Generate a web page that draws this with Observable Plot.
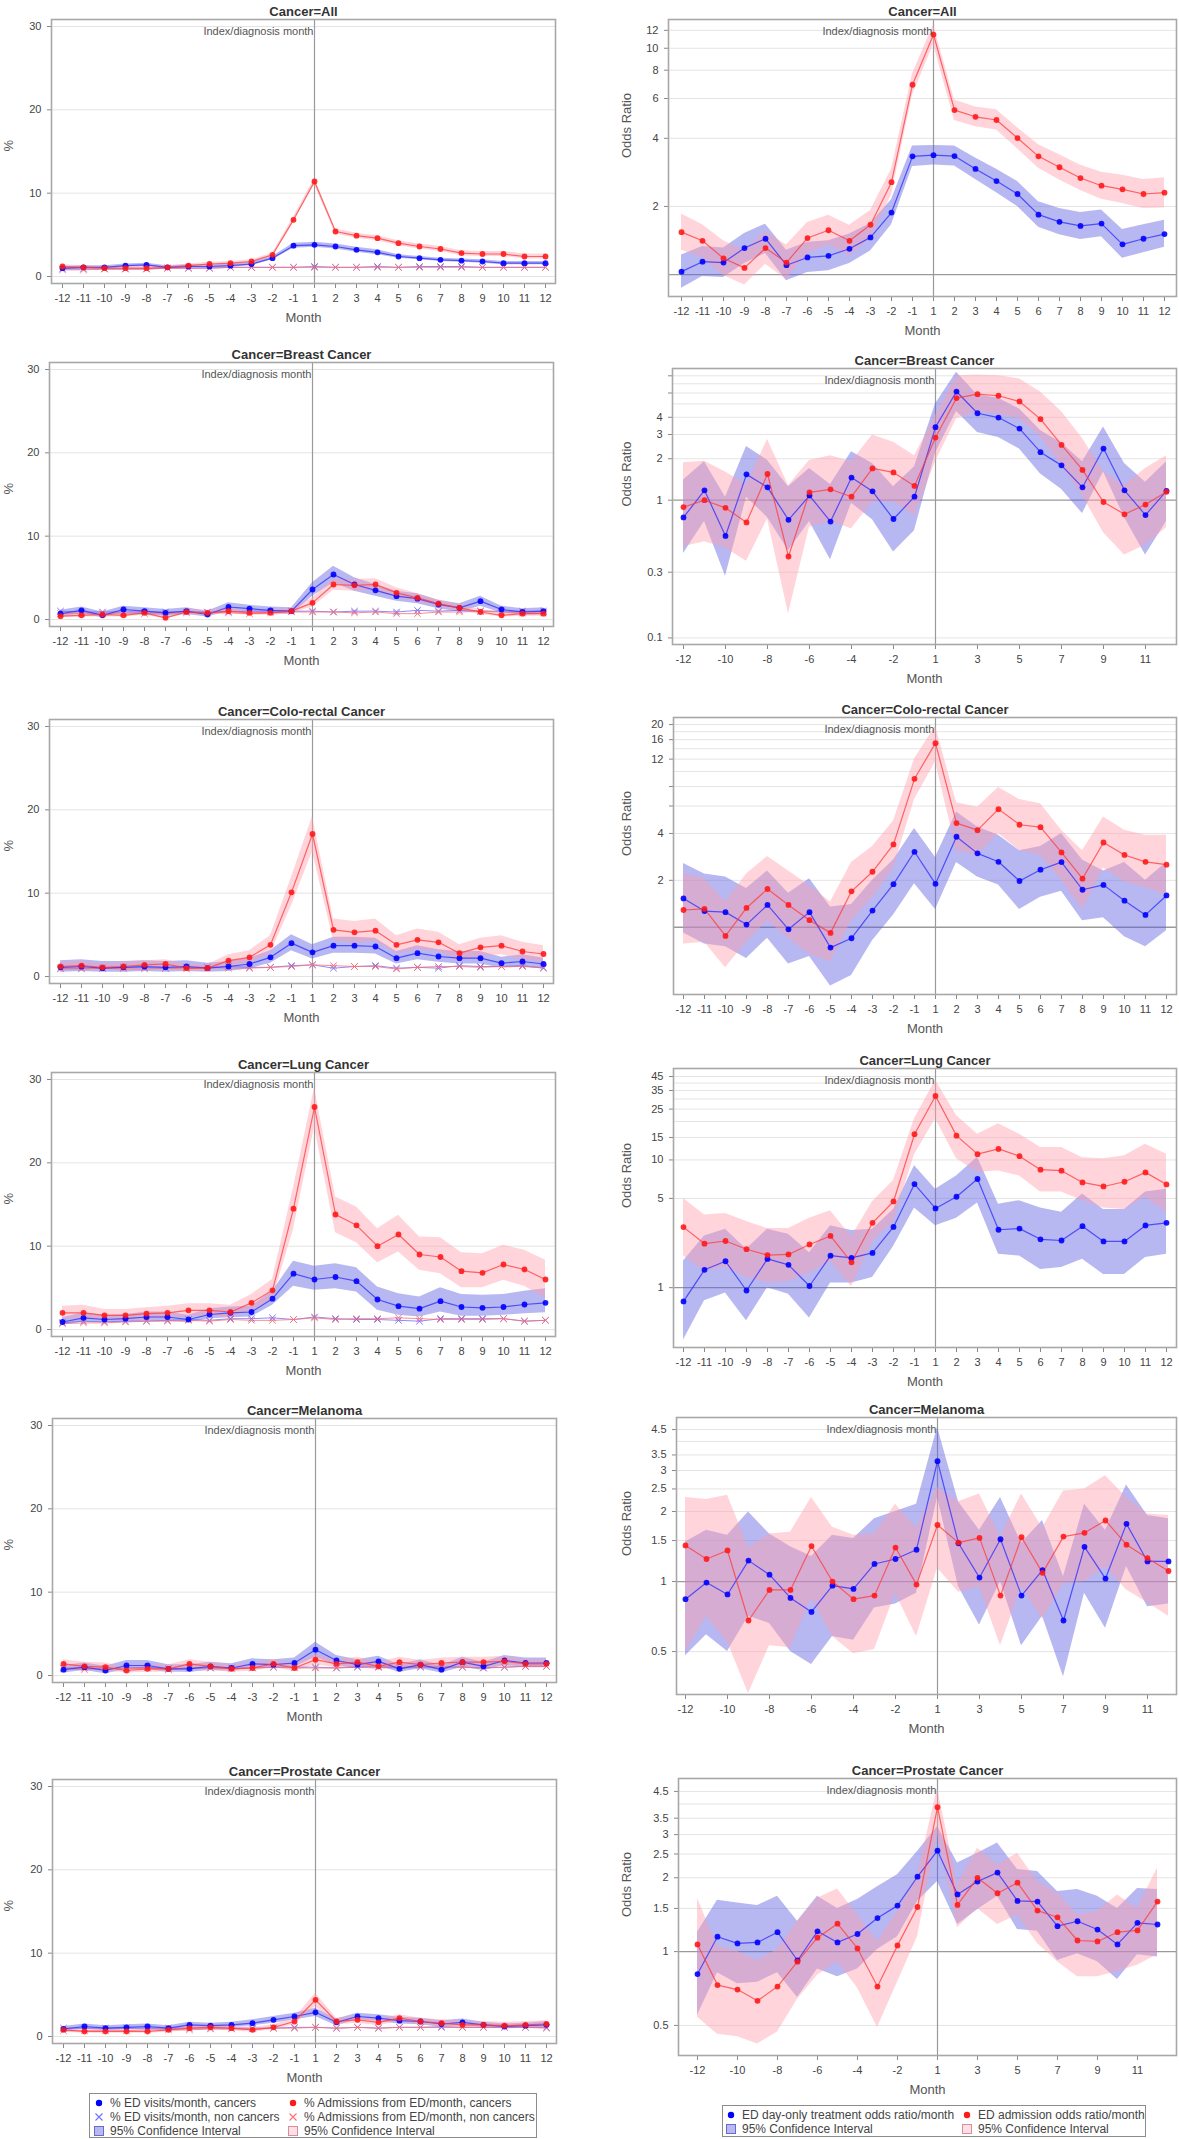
<!DOCTYPE html>
<html><head><meta charset="utf-8">
<script src="https://cdn.jsdelivr.net/npm/d3@7"></script>
<script src="https://cdn.jsdelivr.net/npm/@observablehq/plot@0.6"></script>
<style>
body{margin:0;background:#fff;font-family:"Liberation Sans",Arial,sans-serif;}
#page{position:relative;width:1179px;height:2139px;overflow:hidden;background:#fff;}
.legend{position:absolute;border:1px solid #8c8c8c;box-sizing:border-box;background:#fff;}
</style></head><body><div id="page"></div>
<script>
const months = ["-12","-11","-10","-9","-8","-7","-6","-5","-4","-3","-2","-1","1","2","3","4","5","6","7","8","9","10","11","12"];
const oddTicks = ["-12","-10","-8","-6","-4","-2","1","3","5","7","9","11"];
const pctTicks = [0, 10, 20, 30];

// ---------- Cancer=All ----------
const allEd     = [1.0,1.1,1.1,1.3,1.4,1.1,1.2,1.2,1.3,1.5,2.2,3.7,3.8,3.6,3.2,2.9,2.4,2.2,2.0,1.9,1.8,1.6,1.6,1.6];
const allEdLo   = [0.8,0.9,0.9,1.1,1.2,0.9,1.0,1.0,1.1,1.3,2.0,3.4,3.5,3.3,2.9,2.6,2.2,2.0,1.8,1.7,1.6,1.4,1.4,1.4];
const allEdHi   = [1.2,1.3,1.3,1.5,1.6,1.3,1.4,1.4,1.5,1.7,2.4,4.0,4.1,3.9,3.5,3.2,2.6,2.4,2.2,2.1,2.0,1.8,1.8,1.8];
const allAdm    = [1.2,1.1,1.0,1.0,1.0,1.1,1.3,1.5,1.6,1.8,2.6,6.8,11.4,5.4,4.9,4.6,4.0,3.6,3.3,2.8,2.7,2.7,2.4,2.4];
const allAdmLo  = [1.0,0.9,0.8,0.8,0.8,0.9,1.1,1.3,1.4,1.6,2.4,6.5,11.0,5.1,4.6,4.3,3.7,3.3,3.0,2.5,2.4,2.4,2.1,2.1];
const allAdmHi  = [1.4,1.3,1.2,1.2,1.2,1.3,1.5,1.7,1.8,2.0,2.8,7.1,11.8,5.7,5.2,4.9,4.3,3.9,3.6,3.1,3.0,3.0,2.7,2.7];
const allEdNon  = [0.9,0.9,0.9,0.9,0.9,1.0,1.0,1.0,1.1,1.1,1.1,1.1,1.2,1.1,1.1,1.2,1.1,1.2,1.2,1.2,1.1,1.1,1.1,1.1];
const allAdmNon = [0.8,0.8,0.9,0.9,0.9,1.0,1.0,1.0,1.1,1.1,1.1,1.1,1.1,1.1,1.1,1.1,1.1,1.1,1.1,1.1,1.1,1.1,1.1,1.1];
const allEdOR     = [1.03,1.14,1.13,1.31,1.44,1.10,1.19,1.21,1.30,1.46,1.88,3.33,3.37,3.34,2.93,2.59,2.27,1.84,1.71,1.64,1.68,1.36,1.44,1.51];
const allEdORLo   = [0.87,0.98,0.97,1.12,1.24,0.94,1.02,1.04,1.12,1.27,1.66,3.0,3.05,3.02,2.63,2.3,2.0,1.62,1.5,1.43,1.47,1.18,1.25,1.32];
const allEdORHi   = [1.22,1.33,1.31,1.52,1.67,1.28,1.39,1.41,1.51,1.68,2.14,3.7,3.72,3.7,3.27,2.92,2.58,2.1,1.96,1.88,1.93,1.58,1.66,1.74];
const allAdmOR    = [1.54,1.41,1.18,1.07,1.31,1.13,1.45,1.57,1.41,1.66,2.56,6.9,11.5,5.33,4.98,4.82,4.01,3.33,2.98,2.67,2.47,2.38,2.27,2.30];
const allAdmORLo  = [1.28,1.19,0.99,0.90,1.11,0.95,1.24,1.35,1.21,1.44,2.25,6.2,10.4,4.8,4.5,4.35,3.6,2.95,2.62,2.35,2.15,2.06,1.96,1.97];
const allAdmORHi  = [1.85,1.66,1.41,1.27,1.55,1.35,1.70,1.83,1.65,1.92,2.92,7.7,12.7,5.9,5.5,5.35,4.45,3.75,3.38,3.04,2.83,2.75,2.63,2.68];

// ---------- Cancer=Breast Cancer ----------
const brEd     = [0.7,1.1,0.5,1.2,1.0,0.8,1.0,0.6,1.5,1.3,1.1,1.0,3.6,5.4,4.2,3.5,2.8,2.5,1.8,1.4,2.2,1.2,0.9,1.0];
const brEdLo   = [0.3,0.7,0.2,0.8,0.6,0.4,0.6,0.3,1.0,0.9,0.7,0.6,2.8,4.4,3.4,2.8,2.2,1.9,1.3,0.9,1.6,0.8,0.5,0.6];
const brEdHi   = [1.1,1.5,0.9,1.6,1.4,1.2,1.4,1.0,2.0,1.7,1.5,1.4,4.4,6.4,5.0,4.2,3.4,3.1,2.3,1.9,2.8,1.6,1.3,1.4];
const brAdm    = [0.4,0.5,0.6,0.5,0.8,0.2,0.9,0.8,1.0,0.8,0.8,1.0,2.0,4.2,4.1,4.2,3.2,2.6,1.9,1.4,0.9,0.5,0.7,0.7];
const brAdmLo  = [0.2,0.3,0.3,0.3,0.5,0.1,0.6,0.5,0.7,0.5,0.5,0.7,1.5,3.5,3.4,3.5,2.6,2.1,1.5,1.0,0.6,0.3,0.4,0.4];
const brAdmHi  = [0.7,0.8,0.9,0.8,1.1,0.4,1.2,1.1,1.3,1.1,1.1,1.3,2.6,4.9,4.8,4.9,3.8,3.1,2.3,1.8,1.2,0.8,1.0,1.0];
const brEdNon  = [1.0,0.9,0.9,0.9,0.9,0.9,0.9,0.9,0.9,1.0,1.0,1.0,1.0,0.9,1.0,1.0,0.9,1.1,1.0,1.1,1.0,1.0,1.0,1.0];
const brAdmNon = [0.7,0.7,0.7,0.7,0.7,0.7,0.8,0.8,0.8,0.7,0.8,0.9,0.9,0.9,0.8,0.9,0.7,0.7,0.9,0.9,1.0,0.9,0.8,0.8];
const brEdOR     = [0.75,1.18,0.55,1.54,1.24,0.72,1.08,0.70,1.46,1.16,0.73,1.06,3.39,6.15,4.28,3.98,3.31,2.23,1.79,1.24,2.37,1.18,0.78,1.17];
const brEdORLo   = [0.41,0.7,0.28,1.05,0.75,0.43,0.7,0.37,0.95,0.72,0.42,0.6,2.2,4.4,3.1,2.85,2.35,1.55,1.2,0.8,1.6,0.75,0.4,0.7];
const brEdORHi   = [1.4,1.9,1.05,2.45,1.95,1.25,1.7,1.3,2.25,1.85,1.25,1.75,5.0,8.5,5.8,5.5,4.6,3.2,2.6,1.9,3.4,1.85,1.35,1.9];
const brAdmOR    = [0.89,1.0,0.88,0.69,1.55,0.39,1.14,1.20,1.06,1.70,1.59,1.27,2.85,5.51,5.89,5.73,5.21,3.88,2.52,1.66,0.97,0.79,0.93,1.15];
const brAdmORLo  = [0.46,0.5,0.45,0.36,0.73,0.15,0.64,0.7,0.62,0.97,0.97,0.77,1.9,3.9,4.4,4.2,3.9,2.9,1.8,1.08,0.58,0.4,0.47,0.63];
const brAdmORHi  = [1.87,1.92,1.6,1.3,2.76,1.28,1.94,2.1,1.9,2.98,2.64,2.1,4.1,8.0,8.1,8.0,7.6,6.1,4.4,2.8,1.6,1.28,1.7,2.1];

// ---------- Cancer=Colo-rectal Cancer ----------
const crEd     = [1.1,1.2,1.0,1.1,1.2,1.1,1.2,1.0,1.2,1.5,2.3,4.0,2.9,3.7,3.7,3.6,2.2,2.8,2.4,2.2,2.2,1.6,1.8,1.5];
const crEdLo   = [0.5,0.6,0.5,0.5,0.6,0.5,0.6,0.5,0.6,0.9,1.6,3.1,2.1,2.8,2.8,2.7,1.5,2.0,1.7,1.5,1.5,1.0,1.1,0.9];
const crEdHi   = [1.9,2.0,1.8,1.8,1.9,1.8,1.9,1.6,1.8,2.2,3.1,5.0,3.8,4.7,4.7,4.6,3.0,3.7,3.2,3.0,3.0,2.3,2.6,2.2];
const crAdm    = [1.2,1.3,1.1,1.2,1.4,1.5,1.0,1.0,1.9,2.3,3.8,10.1,17.1,5.6,5.3,5.5,3.8,4.4,4.1,2.8,3.5,3.7,3.0,2.7];
const crAdmLo  = [0.8,0.9,0.7,0.8,0.9,1.0,0.6,0.6,1.2,1.6,2.8,8.5,15.0,4.3,4.0,4.2,2.7,3.2,3.0,1.9,2.4,2.6,2.0,1.7];
const crAdmHi  = [1.7,1.8,1.5,1.7,1.9,2.0,1.4,1.4,2.6,3.1,4.9,11.9,19.2,6.9,6.6,6.9,4.9,5.7,5.3,3.8,4.6,4.9,4.1,3.7];
const crEdNon  = [1.0,1.0,1.0,1.1,1.1,1.0,1.1,1.1,1.2,1.1,1.1,1.3,1.4,1.0,1.2,1.3,1.0,1.1,1.0,1.3,1.2,1.2,1.3,1.0];
const crAdmNon = [0.9,0.9,1.0,0.9,0.9,1.0,0.9,1.1,1.0,1.0,1.1,1.2,1.4,1.3,1.2,1.2,0.9,1.1,1.2,1.2,1.1,1.2,1.2,1.1];
const crEdOR     = [1.53,1.27,1.25,1.04,1.39,0.97,1.25,0.74,0.85,1.28,1.89,3.05,1.90,3.81,2.98,2.63,1.98,2.34,2.62,1.74,1.87,1.48,1.20,1.60];
const crEdORLo   = [0.92,0.78,0.75,0.63,0.85,0.58,0.65,0.42,0.49,0.82,1.2,1.9,1.3,2.6,2.1,1.87,1.3,1.56,1.7,1.1,1.15,0.87,0.75,0.95];
const crEdORHi   = [2.57,2.2,2.1,1.77,2.3,1.65,2.05,1.35,1.4,2.0,2.7,4.3,2.8,5.5,4.4,3.9,3.1,3.3,4.0,2.7,2.3,2.6,2.0,2.6];
const crAdmOR    = [1.29,1.31,0.88,1.33,1.76,1.39,1.11,0.92,1.70,2.27,3.40,8.97,15.2,4.66,4.20,5.73,4.55,4.39,3.02,2.05,3.50,2.91,2.63,2.52];
const crAdmORLo  = [0.78,0.8,0.55,0.8,1.1,0.85,0.67,0.6,1.1,1.55,2.4,6.6,11.5,3.1,2.9,4.0,3.1,2.9,2.0,1.3,2.4,1.95,1.8,1.6];
const crAdmORHi  = [2.2,2.05,1.45,2.2,2.85,2.3,1.85,1.45,2.6,3.3,4.8,12.0,19.5,6.3,5.9,7.9,6.6,6.2,4.2,3.1,5.1,4.2,3.9,3.9];

// ---------- Cancer=Lung Cancer ----------
const luEd     = [0.9,1.4,1.2,1.3,1.5,1.5,1.2,1.8,2.0,2.1,3.7,6.7,6.0,6.3,5.8,3.6,2.8,2.5,3.4,2.7,2.6,2.7,3.0,3.2];
const luEdLo   = [0.5,0.9,0.8,0.9,1.0,1.0,0.8,1.3,1.4,1.5,2.9,5.2,4.7,4.9,4.5,2.3,1.7,1.5,2.1,1.6,1.6,1.7,1.9,2.0];
const luEdHi   = [1.4,2.0,1.7,1.8,2.1,2.1,1.7,2.5,2.7,2.8,4.6,8.2,7.6,7.9,7.4,5.1,4.3,3.9,5.0,4.2,4.1,4.2,4.6,4.9];
const luAdm    = [2.0,2.0,1.7,1.7,1.9,2.0,2.3,2.3,2.1,3.2,4.7,14.5,26.7,13.8,12.5,10.0,11.4,9.0,8.7,7.0,6.8,7.8,7.2,6.0];
const luAdmLo  = [1.3,1.3,1.1,1.1,1.3,1.3,1.6,1.6,1.4,2.3,3.6,12.0,24.3,11.6,10.4,8.0,9.3,7.1,6.7,5.0,5.0,5.9,5.2,3.7];
const luAdmHi  = [2.8,2.9,2.4,2.4,2.6,2.8,3.1,3.1,2.9,4.2,6.0,17.0,29.0,15.9,14.7,12.1,13.7,11.1,11.0,9.2,9.1,10.1,9.5,8.3];
const luEdNon  = [0.8,1.0,0.9,1.0,1.0,1.1,1.2,1.1,1.3,1.3,1.4,1.2,1.5,1.3,1.2,1.2,1.1,1.0,1.3,1.3,1.3,1.3,1.0,1.1];
const luAdmNon = [0.7,0.8,0.8,0.9,1.0,1.0,1.1,1.0,1.2,1.1,1.1,1.2,1.4,1.2,1.3,1.3,1.4,1.3,1.2,1.2,1.2,1.3,1.0,1.1];
const luEdOR     = [0.78,1.38,1.61,0.95,1.68,1.51,1.03,1.78,1.71,1.87,2.99,6.47,4.17,5.15,7.09,2.84,2.90,2.39,2.34,3.03,2.30,2.30,3.07,3.22];
const luEdORLo   = [0.39,0.79,0.91,0.55,1.0,0.89,0.58,1.09,1.09,1.2,2.1,4.2,3.05,3.5,4.6,1.83,1.77,1.39,1.44,1.67,1.27,1.27,1.72,1.83];
const luEdORHi   = [1.62,2.54,2.87,2.0,2.87,2.62,1.88,3.05,2.8,2.87,4.1,9.0,5.9,7.5,10.5,4.5,4.8,4.2,3.9,5.4,4.1,4.1,5.6,5.9];
const luAdmOR    = [2.98,2.21,2.32,2.0,1.80,1.82,2.18,2.54,1.58,3.22,4.73,15.9,31.7,15.5,11.1,12.2,10.7,8.39,8.24,6.67,6.2,6.75,7.99,6.43];
const luAdmORLo  = [1.77,1.35,1.45,1.2,1.1,1.12,1.3,1.6,1.02,2.3,3.3,11.0,21,10.2,8.0,8.2,7.5,5.6,5.6,4.8,4.2,4.1,5.1,3.9];
const luAdmORHi  = [5.0,3.7,3.8,3.3,2.9,2.9,3.5,4.0,2.5,4.7,6.9,21,42,22.3,15.9,19.2,15.9,12.5,12.5,10.4,10.2,10.8,13.3,11.1];

// ---------- Cancer=Melanoma ----------
const meEd     = [0.7,1.0,0.6,1.2,1.2,0.8,0.8,1.1,0.9,1.4,1.3,1.5,3.1,1.8,1.3,1.7,0.8,1.3,0.7,1.6,1.1,1.8,1.5,1.5];
const meEdLo   = [0.3,0.6,0.2,0.7,0.7,0.4,0.4,0.6,0.5,0.9,0.8,1.0,2.2,1.2,0.8,1.1,0.4,0.8,0.3,1.0,0.6,1.2,1.0,1.0];
const meEdHi   = [1.2,1.5,1.1,1.8,1.8,1.3,1.3,1.6,1.4,2.0,1.9,2.1,4.0,2.4,1.9,2.3,1.3,1.9,1.2,2.2,1.6,2.4,2.1,2.1];
const meAdm    = [1.4,1.1,1.0,0.6,0.8,0.8,1.4,1.1,0.8,0.9,1.4,0.9,1.9,1.4,1.6,1.1,1.6,1.3,1.5,1.6,1.6,1.7,1.4,1.4];
const meAdmLo  = [0.9,0.6,0.6,0.3,0.4,0.4,0.9,0.6,0.4,0.5,0.9,0.5,1.3,0.9,1.0,0.6,1.0,0.8,0.9,1.0,1.0,1.1,0.9,0.9];
const meAdmHi  = [1.9,1.6,1.5,1.0,1.3,1.3,1.9,1.6,1.3,1.4,1.9,1.4,2.5,1.9,2.2,1.6,2.2,1.8,2.1,2.2,2.2,2.3,1.9,1.9];
const meEdNon  = [0.9,0.9,0.8,0.9,1.0,0.8,0.9,0.9,0.9,0.9,1.0,1.0,1.0,0.9,1.0,1.0,0.9,1.0,1.0,1.0,0.9,1.0,1.1,1.1];
const meAdmNon = [0.8,0.7,0.8,0.8,0.9,0.7,0.9,0.9,0.8,0.9,1.0,0.9,0.9,0.9,1.1,1.1,1.0,1.1,1.1,1.0,0.9,1.0,1.1,1.1];
const meEdOR     = [0.84,0.99,0.88,1.23,1.07,0.85,0.74,0.96,0.93,1.19,1.25,1.37,3.29,1.46,1.04,1.52,0.87,1.12,0.68,1.41,1.03,1.77,1.22,1.22];
const meEdORLo   = [0.48,0.59,0.5,0.71,0.66,0.5,0.44,0.58,0.56,0.77,0.8,0.89,2.3,0.95,0.65,1.0,0.53,0.71,0.39,0.89,0.63,1.16,0.78,0.8];
const meEdORHi   = [1.48,1.66,1.58,1.99,1.6,1.41,1.28,1.58,1.53,1.86,2.0,2.15,4.6,2.2,1.66,2.3,1.46,1.83,1.05,2.15,1.66,2.6,1.92,1.86];
const meAdmOR    = [1.43,1.25,1.36,0.68,0.92,0.92,1.42,1.0,0.84,0.87,1.40,0.97,1.75,1.47,1.54,0.87,1.55,1.09,1.56,1.62,1.83,1.44,1.26,1.11];
const meAdmORLo  = [0.5,0.71,0.55,0.33,0.53,0.52,0.85,0.58,0.49,0.51,0.89,0.58,1.14,0.9,0.95,0.53,0.95,0.69,0.98,1.0,1.16,0.92,0.81,0.71];
const meAdmORHi  = [2.3,2.25,2.35,1.4,1.6,1.63,2.3,1.71,1.58,1.6,2.15,1.7,2.54,2.2,2.38,1.55,2.38,1.7,2.45,2.5,2.85,2.3,1.95,1.92];

// ---------- Cancer=Prostate Cancer ----------
const prEd     = [0.9,1.2,1.0,1.1,1.2,1.0,1.4,1.3,1.4,1.6,2.0,2.4,2.9,1.7,2.4,2.2,1.9,1.8,1.5,1.7,1.4,1.2,1.3,1.4];
const prEdLo   = [0.6,0.9,0.7,0.8,0.9,0.7,1.1,1.0,1.1,1.3,1.6,2.0,2.4,1.3,2.0,1.8,1.5,1.4,1.1,1.3,1.1,0.9,1.0,1.0];
const prEdHi   = [1.2,1.5,1.3,1.4,1.5,1.3,1.7,1.6,1.7,2.0,2.4,2.8,3.4,2.1,2.8,2.6,2.3,2.2,1.9,2.1,1.7,1.5,1.6,1.8];
const prAdm    = [0.8,0.6,0.6,0.6,0.6,0.8,1.0,1.1,1.0,0.8,1.1,1.8,4.4,1.8,2.0,1.7,2.2,1.8,1.6,1.4,1.4,1.3,1.4,1.5];
const prAdmLo  = [0.5,0.4,0.4,0.4,0.4,0.5,0.7,0.8,0.7,0.5,0.8,1.4,3.6,1.4,1.6,1.3,1.8,1.4,1.2,1.0,1.0,1.0,1.0,1.1];
const prAdmHi  = [1.1,0.9,0.9,0.9,0.9,1.1,1.3,1.4,1.3,1.1,1.4,2.2,5.2,2.2,2.4,2.1,2.6,2.2,2.0,1.8,1.8,1.7,1.8,1.9];
const prEdNon  = [1.0,1.0,1.0,1.0,1.0,1.0,1.0,1.0,1.0,1.0,1.0,1.1,1.1,1.0,1.1,1.0,1.1,1.1,1.1,1.1,1.1,1.1,1.1,1.1];
const prAdmNon = [0.7,0.7,0.7,0.7,0.8,0.8,0.8,0.9,0.9,0.9,1.0,1.0,1.1,1.0,1.1,1.0,1.1,1.1,1.2,1.1,1.1,1.1,1.1,1.0];
const prEdOR     = [0.81,1.15,1.08,1.09,1.2,0.92,1.21,1.09,1.18,1.37,1.54,2.02,2.58,1.71,1.93,2.10,1.61,1.60,1.27,1.33,1.23,1.07,1.31,1.29];
const prEdORLo   = [0.55,0.82,0.74,0.75,0.82,0.65,0.85,0.79,0.85,1.02,1.15,1.6,1.93,1.29,1.48,1.68,1.23,1.21,0.92,0.98,0.91,0.77,0.97,0.95];
const prEdORHi   = [1.2,1.62,1.58,1.54,1.68,1.33,1.68,1.5,1.63,1.84,2.06,2.56,3.24,2.3,2.52,2.77,2.16,2.12,1.76,1.79,1.68,1.5,1.81,1.79];
const prAdmOR    = [1.07,0.73,0.70,0.63,0.72,0.91,1.14,1.30,1.03,0.72,1.06,1.52,3.88,1.55,2.0,1.73,1.91,1.47,1.38,1.11,1.10,1.20,1.22,1.60];
const prAdmORLo  = [0.54,0.46,0.45,0.42,0.47,0.64,0.8,0.91,0.71,0.49,0.75,1.15,3.0,1.25,1.5,1.29,1.41,1.08,0.91,0.79,0.79,0.83,0.88,0.97];
const prAdmORHi  = [1.65,1.05,1.0,0.92,1.02,1.33,1.65,1.8,1.41,1.1,1.46,2.06,4.65,1.87,2.64,2.26,2.52,1.93,1.73,1.41,1.46,1.7,1.5,2.19];

// ---------- odds-ratio axis ticks ----------
const orLabelsAll = [2,4,6,8,10,12];
const orGridAll   = [2,4,6,8,10,12];
const orLabelsBr  = [0.1,0.3,1,2,3,4,6,8];
const orGridBr    = [0.1,0.3,2,3,4,5,6,7,8];
const orLabelsCr  = [2,4,6,8,12,16,20];
const orGridCr    = [2,4,6,8,10,12,14,16,18,20];
const orLabelsLu  = [1,5,10,15,25,35,45];
const orGridLu    = [5,10,15,20,25,30,35,40,45];
const orLabelsMe  = [0.5,1,1.5,2,2.5,3,3.5,4.5];
const orGridMe    = [0.5,1.5,2,2.5,3,3.5,4,4.5];

// ---------- styling ----------
const ED = "#0000ff", ADM = "#ff1a1a";
const ED_LINE = "#2a2aff", ADM_LINE = "#ff3a3a";
const ED_BAND = "#6060e0", ADM_BAND = "#ffa0b0";
const ED_NON = "#6f6fff", ADM_NON = "#ff7070";
const GRID = "#e4e4e4", REF = "#9a9a9a";
const FONT = '"Liberation Sans", Arial, sans-serif';
const page = document.getElementById("page");

function makePanel(p) {
  const L = p.side === "L";
  const svgLeft = L ? 0 : 590, svgW = L ? 590 : 589;
  const mt = 30, mb = 50;
  const rows = months.map((m, i) => ({
    m,
    ed: p.ed[i], edLo: p.edLo[i], edHi: p.edHi[i],
    adm: p.adm[i], admLo: p.admLo[i], admHi: p.admHi[i],
    edN: p.edN ? p.edN[i] : null, admN: p.admN ? p.admN[i] : null
  }));
  const marks = [];
  if (L) {
    marks.push(Plot.ruleY(pctTicks, {stroke: GRID}));
  } else {
    marks.push(Plot.ruleY(p.grid, {stroke: GRID}));
    marks.push(Plot.ruleY([1], {stroke: REF, strokeWidth: 1.3}));
  }
  marks.push(Plot.ruleX(["1"], {stroke: REF, strokeWidth: 1.2}));
  marks.push(Plot.areaY(rows, {x: "m", y1: "edLo", y2: "edHi", fill: ED_BAND, fillOpacity: 0.45}));
  marks.push(Plot.areaY(rows, {x: "m", y1: "admLo", y2: "admHi", fill: ADM_BAND, fillOpacity: 0.45}));
  if (L) {
    marks.push(Plot.lineY(rows, {x: "m", y: "edN", stroke: ED_NON, strokeWidth: 1, strokeOpacity: 0.8}));
    marks.push(Plot.lineY(rows, {x: "m", y: "admN", stroke: ADM_NON, strokeWidth: 1, strokeOpacity: 0.8}));
    marks.push(Plot.dot(rows, {x: "m", y: "edN", symbol: "times", r: 3, stroke: ED_NON, strokeWidth: 1}));
    marks.push(Plot.dot(rows, {x: "m", y: "admN", symbol: "times", r: 3, stroke: ADM_NON, strokeWidth: 1}));
  }
  marks.push(Plot.lineY(rows, {x: "m", y: "ed", stroke: ED_LINE, strokeWidth: 1.2, strokeOpacity: 0.75}));
  marks.push(Plot.lineY(rows, {x: "m", y: "adm", stroke: ADM_LINE, strokeWidth: 1.2, strokeOpacity: 0.75}));
  marks.push(Plot.dot(rows, {x: "m", y: "ed", r: 2.9, fill: ED, fillOpacity: 0.9}));
  marks.push(Plot.dot(rows, {x: "m", y: "adm", r: 2.9, fill: ADM, fillOpacity: 0.9}));
  marks.push(Plot.axisX({ticks: p.xticks || months, tickSize: 5, tickPadding: 6, label: null, fill: "#444", stroke: "#888"}));
  marks.push(Plot.axisY({ticks: L ? pctTicks : p.labels, tickSize: 4, tickPadding: 6, label: null,
    tickFormat: d => String(d), fill: "#444", stroke: "#888"}));
  marks.push(Plot.frame({stroke: "#a8a8a8", strokeWidth: 1.6}));
  marks.push(Plot.text([p.title], {text: d => d, frameAnchor: "top", dy: -13, fontSize: 13, fontWeight: "bold", fill: "#333"}));
  marks.push(Plot.text([{m: "1", t: "Index/diagnosis month"}], {x: "m", text: "t", frameAnchor: "top", dy: 8, dx: -1, textAnchor: "end", fontSize: 11, fill: "#555"}));
  marks.push(Plot.text(["Month"], {text: d => d, frameAnchor: "bottom", dy: 38, fontSize: 13, fill: "#555"}));
  const labelX = L ? 8 : 626;
  marks.push(Plot.text([L ? "%" : "Odds Ratio"], {text: d => d, frameAnchor: "left", dx: -(p.fl - labelX), rotate: -90, fontSize: 13, fill: "#555"}));

  const svg = Plot.plot({
    width: svgW,
    height: (p.fb - p.ft) + mt + mb,
    marginLeft: p.fl - svgLeft,
    marginRight: svgLeft + svgW - p.fr,
    marginTop: mt,
    marginBottom: mb,
    x: {type: "point", domain: months, padding: L ? 0.3 : 0.38},
    y: L ? {domain: [-0.84, 30.84]} : {type: "log", domain: p.domain},
    style: {fontFamily: FONT, fontSize: "11px", color: "#444", background: "transparent", overflow: "visible"},
    marks
  });
  svg.style.position = "absolute";
  svg.style.left = svgLeft + "px";
  svg.style.top = (p.ft - mt) + "px";
  svg.style.maxWidth = "none";
  page.appendChild(svg);
}

const R = 1176;
makePanel({side: "L", title: "Cancer=All", fl: 51, fr: 555, ft: 19, fb: 283,
  ed: allEd, edLo: allEdLo, edHi: allEdHi, adm: allAdm, admLo: allAdmLo, admHi: allAdmHi, edN: allEdNon, admN: allAdmNon});
makePanel({side: "R", title: "Cancer=All", fl: 668, fr: R, ft: 19, fb: 296, domain: [0.80, 13.4], labels: orLabelsAll, grid: orGridAll,
  ed: allEdOR, edLo: allEdORLo, edHi: allEdORHi, adm: allAdmOR, admLo: allAdmORLo, admHi: allAdmORHi});

makePanel({side: "L", title: "Cancer=Breast Cancer", fl: 49, fr: 553, ft: 362, fb: 626,
  ed: brEd, edLo: brEdLo, edHi: brEdHi, adm: brAdm, admLo: brAdmLo, admHi: brAdmHi, edN: brEdNon, admN: brAdmNon});
makePanel({side: "R", title: "Cancer=Breast Cancer", fl: 672, fr: R, ft: 368, fb: 644, domain: [0.0896, 9.04], labels: orLabelsBr, grid: orGridBr, xticks: oddTicks,
  ed: brEdOR, edLo: brEdORLo, edHi: brEdORHi, adm: brAdmOR, admLo: brAdmORLo, admHi: brAdmORHi});

makePanel({side: "L", title: "Cancer=Colo-rectal Cancer", fl: 49, fr: 553, ft: 719, fb: 983,
  ed: crEd, edLo: crEdLo, edHi: crEdHi, adm: crAdm, admLo: crAdmLo, admHi: crAdmHi, edN: crEdNon, admN: crAdmNon});
makePanel({side: "R", title: "Cancer=Colo-rectal Cancer", fl: 673, fr: R, ft: 717, fb: 994, domain: [0.37, 22.2], labels: orLabelsCr, grid: orGridCr,
  ed: crEdOR, edLo: crEdORLo, edHi: crEdORHi, adm: crAdmOR, admLo: crAdmORLo, admHi: crAdmORHi});

makePanel({side: "L", title: "Cancer=Lung Cancer", fl: 51, fr: 555, ft: 1072, fb: 1336,
  ed: luEd, edLo: luEdLo, edHi: luEdHi, adm: luAdm, admLo: luAdmLo, admHi: luAdmHi, edN: luEdNon, admN: luAdmNon});
makePanel({side: "R", title: "Cancer=Lung Cancer", fl: 673, fr: R, ft: 1068, fb: 1347, domain: [0.34, 52], labels: orLabelsLu, grid: orGridLu,
  ed: luEdOR, edLo: luEdORLo, edHi: luEdORHi, adm: luAdmOR, admLo: luAdmORLo, admHi: luAdmORHi});

makePanel({side: "L", title: "Cancer=Melanoma", fl: 52, fr: 556, ft: 1418, fb: 1682,
  ed: meEd, edLo: meEdLo, edHi: meEdHi, adm: meAdm, admLo: meAdmLo, admHi: meAdmHi, edN: meEdNon, admN: meAdmNon});
makePanel({side: "R", title: "Cancer=Melanoma", fl: 676, fr: R, ft: 1417, fb: 1694, domain: [0.327, 5.07], labels: orLabelsMe, grid: orGridMe, xticks: oddTicks,
  ed: meEdOR, edLo: meEdORLo, edHi: meEdORHi, adm: meAdmOR, admLo: meAdmORLo, admHi: meAdmORHi});

makePanel({side: "L", title: "Cancer=Prostate Cancer", fl: 52, fr: 556, ft: 1779, fb: 2043,
  ed: prEd, edLo: prEdLo, edHi: prEdHi, adm: prAdm, admLo: prAdmLo, admHi: prAdmHi, edN: prEdNon, admN: prAdmNon});
makePanel({side: "R", title: "Cancer=Prostate Cancer", fl: 678, fr: R, ft: 1778, fb: 2055, domain: [0.377, 5.08], labels: orLabelsMe, grid: orGridMe, xticks: oddTicks,
  ed: prEdOR, edLo: prEdORLo, edHi: prEdORHi, adm: prAdmOR, admLo: prAdmORLo, admHi: prAdmORHi});

// ---------- legends ----------
function marker(type, color, x, y) {
  if (type === "dot") return `<circle cx="${x}" cy="${y}" r="3.2" fill="${color}"/>`;
  if (type === "x") return `<path d="M${x-3.5},${y-3.5}L${x+3.5},${y+3.5}M${x-3.5},${y+3.5}L${x+3.5},${y-3.5}" stroke="${color}" stroke-width="1.1"/>`;
  const c = color === "blue" ? ["#b8b8f2", "#6a6ac8"] : ["#ffe0e6", "#d98c9a"];
  return `<rect x="${x-4.5}" y="${y-4.5}" width="9" height="9" fill="${c[0]}" stroke="${c[1]}"/>`;
}
function legend(left, top, w, h, items) {
  const div = document.createElement("div");
  div.className = "legend";
  Object.assign(div.style, {left: left + "px", top: top + "px", width: w + "px", height: h + "px"});
  let s = `<svg width="${w}" height="${h}" style="position:absolute;left:-1px;top:-1px;font-family:${FONT.replace(/"/g, "'")};font-size:12px;fill:#444">`;
  for (const it of items) {
    s += marker(it.type, it.color, it.x, it.y);
    s += `<text x="${it.x + 11}" y="${it.y}" dy="0.35em">${it.label}</text>`;
  }
  s += "</svg>";
  div.innerHTML = s;
  page.appendChild(div);
}
legend(89, 2093, 448, 45, [
  {type: "dot", color: ED, x: 10, y: 10, label: "% ED visits/month, cancers"},
  {type: "dot", color: ADM, x: 204, y: 10, label: "% Admissions from ED/month, cancers"},
  {type: "x", color: ED_NON, x: 10, y: 24, label: "% ED visits/month, non cancers"},
  {type: "x", color: ADM_NON, x: 204, y: 24, label: "% Admissions from ED/month, non cancers"},
  {type: "sq", color: "blue", x: 10, y: 38, label: "95% Confidence Interval"},
  {type: "sq", color: "pink", x: 204, y: 38, label: "95% Confidence Interval"}
]);
legend(722, 2105, 424, 32, [
  {type: "dot", color: ED, x: 9, y: 10, label: "ED day-only treatment odds ratio/month"},
  {type: "dot", color: ADM, x: 245, y: 10, label: "ED admission odds ratio/month"},
  {type: "sq", color: "blue", x: 9, y: 24, label: "95% Confidence Interval"},
  {type: "sq", color: "pink", x: 245, y: 24, label: "95% Confidence Interval"}
]);
</script></body></html>
